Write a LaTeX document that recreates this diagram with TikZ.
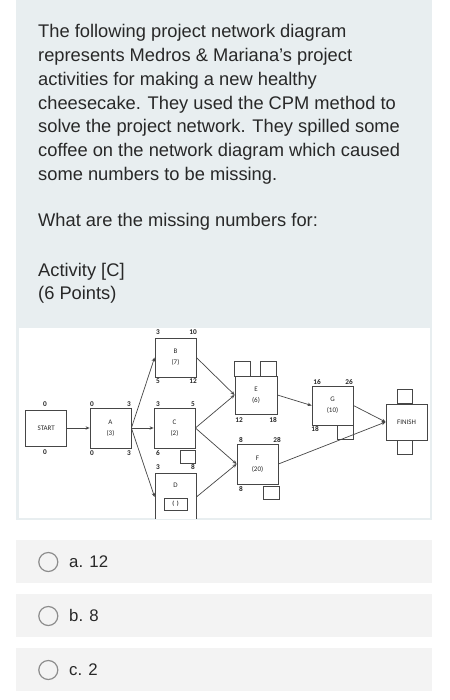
\documentclass[tikz,border=0pt]{standalone}
\usepackage{fontspec}
\setmainfont{Liberation Sans}
\newfontfamily\diagfont{Carlito}
\usetikzlibrary{arrows.meta}

\begin{document}
\begin{tikzpicture}[x=1pt,y=-1pt]

% ------------------------------------------------ quiz theme colors
\definecolor{qz_panel}{RGB}{232,238,240}  %#E8EEF0
\definecolor{qz_option}{RGB}{243,243,243} %#F3F3F3
\definecolor{qz_text}{RGB}{40,40,40}      %#282828
\definecolor{qz_line}{RGB}{70,70,70}      %#464646
\definecolor{qz_ring}{RGB}{140,140,140}   %#8C8C8C

\tikzset{
  txt/.style={anchor=base west, inner sep=0pt, text=qz_text, font=\fontsize{18.3}{24}\selectfont},
  opt/.style={anchor=base west, inner sep=0pt, text=qz_text, font=\fontsize{16.8}{20}\selectfont},
  act/.style={draw=qz_line, line width=0.8pt, fill=white, minimum width=41pt, minimum height=40pt,
              inner sep=0pt, align=center, text=qz_text, font=\diagfont\fontsize{7}{11}\selectfont},
  num/.style={inner sep=0pt, text=qz_text, font=\diagfont\bfseries\fontsize{7.3}{8}\selectfont},
  blank/.style={draw=qz_line, line width=0.8pt, minimum width=16pt, minimum height=14pt, inner sep=0pt,
                text=qz_text, font=\diagfont\bfseries\fontsize{6}{7}\selectfont},
  link/.style={qz_line, line width=0.7pt, -{Stealth[length=4pt,width=3.4pt]}},
}

\useasboundingbox (0,0) rectangle (449,700);

% panels
\fill[qz_panel] (16,0) rectangle (432,520);
\fill[white] (19,328) rectangle (430,518);
\foreach \y in {540,594,648}
  \fill[qz_option] (16,\y) rectangle (432,\y+43);

% question text
\foreach \t [count=\i] in {{The following project network diagram},
    {represents Medros \& Mariana’s project},
    {activities for making a new healthy},
    {cheesecake. They used the CPM method to},
    {solve the project network. They spilled some},
    {coffee on the network diagram which caused},
    {some numbers to be missing.}}
  \node[txt] (line\i) at (38,14.3+23.7*\i) {\t};
\node[txt] (ask)    at (38,227)   {What are the missing numbers for:};
\node[txt] (act)    at (38,276.5) {Activity [C]};
\node[txt] (points) at (38,299.5) {(6 Points)};

% network diagram
\begin{scope}
  \clip (19,328) rectangle (430,518);

  % activity boxes
  \node[act, minimum height=36pt] (start)  at (46.2,428)  {START};
  \node[act]                      (A)      at (110.5,428) {A\\(3)};
  \node[act, minimum height=39pt] (B)      at (175.5,357.5) {B\\(7)};
  \node[act]                      (C)      at (174.5,428) {C\\(2)};
  \node[act, minimum height=48pt] (D)      at (175.5,497) {D\\[12pt]};
  \node[act, minimum width=42pt, minimum height=38pt] (E) at (256,395) {E\\(6)};
  \node[act]                      (F)      at (257.5,464) {F\\(20)};
  \node[act, minimum height=39pt] (G)      at (332.5,405.5) {G\\(10)};
  \node[act, minimum height=36pt] (finish) at (406.5,422) {FINISH};

  % coffee stained (empty) boxes
  \node[blank, minimum width=15pt, minimum height=13pt] (Cls) at (187.5,456.5) {};
  \node[blank, minimum width=23pt, minimum height=12pt] (Ddur) at (175.5,504) {(\ \ )};
  \node[blank, minimum height=15pt] (Ees) at (242,368.5) {};
  \node[blank, minimum height=15pt] (Eef) at (268,368.5) {};
  \node[blank, minimum height=13pt] (Flf) at (271,492.5) {};
  \node[blank]                      (Glf) at (345,432) {};
  \node[blank, minimum width=15pt]  (Fes) at (404.5,396) {};
  \node[blank, minimum width=15pt]  (Fls) at (404.5,447) {};

  % early / late times
  \foreach \x/\y/\n [count=\k] in {45/404/0, 45/452/0,
      92/404/0, 129/404/3, 92/453/0, 129/453/3,
      158/332/3, 193/332/10, 158/381/5, 193/381/12,
      158/404/3, 193/404/5, 158/453/6,
      158/467/3, 193/467/8,
      239/420/12, 273/420/18,
      241/440/8, 277/440/28, 241/489/8,
      317/382/16, 349/382/26, 315/429/18}
    \node[num] (t\k) at (\x,\y) {\n};

  % arrows
  \draw[link] (start.east) -- (A.west);
  \draw[link] (A.east) -- (B.west);
  \draw[link] (A.east) -- (C.west);
  \draw[link] (A.east) -- (D.west);
  \draw[link] (B.east) -- (E.west);
  \draw[link] (C.east) -- (E.west);
  \draw[link] (C.east) -- (F.west);
  \draw[link] (D.east) -- (F.west);
  \draw[link] (E.east) -- (G.west);
  \draw[link] (G.east) -- (finish.west);
  \draw[link] (F.east) -- (finish.west);
\end{scope}

% answer options
\foreach \n/\lab [count=\i] in {a/12, b/8, c/2} {
  \draw[qz_ring, line width=1.2pt] (48.3,508+54*\i) circle (9.5);
  \node[opt] (opt\n) at (69,513+54*\i) {\n. \lab};
}

\end{tikzpicture}
\end{document}
